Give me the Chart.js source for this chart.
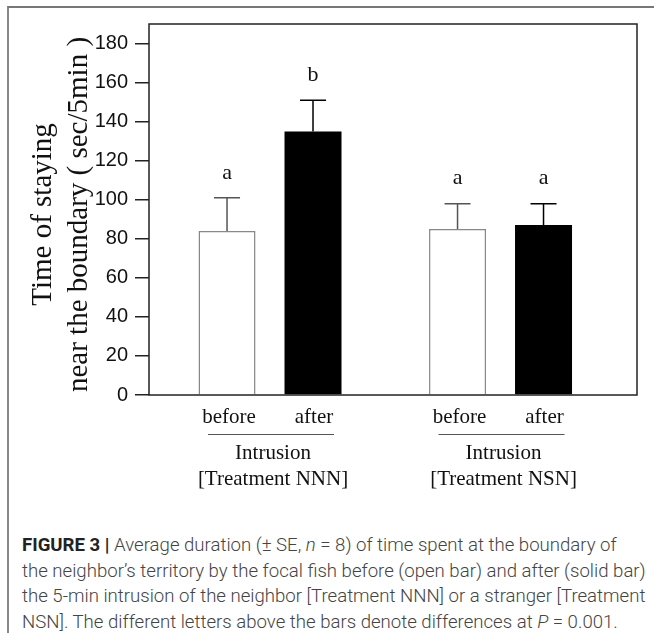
<!DOCTYPE html>
<html>
<head>
<meta charset="utf-8">
<script src="https://cdn.jsdelivr.net/npm/chart.js@4.4.1/dist/chart.umd.min.js"></script>
<style>
  body { margin: 0; background: #fff; width: 654px; height: 633px; overflow: hidden; position: relative; }
  .frame { position: absolute; left: 7px; top: 6px; width: 660px; height: 640px; border-top: 2px solid #777; border-left: 2px solid #888; }
  #chart { position: absolute; left: 0; top: 0; }
  .caption { position: absolute; left: 22px; top: 533px; width: 640px; font-family: Roboto, "Liberation Sans", sans-serif; font-size: 18.6px; line-height: 25.5px; color: #444; font-weight: 300; white-space: nowrap; }
  .caption b { color: #222; font-weight: 700; }
</style>
</head>
<body>
<div class="frame"></div>
<canvas id="chart" width="654" height="520"></canvas>
<div class="caption">
  <b>FIGURE 3 |</b> Average duration (± SE, <i>n</i> = 8) of time spent at the boundary of<br>
  the neighbor’s territory by the focal fish before (open bar) and after (solid bar)<br>
  the 5-min intrusion of the neighbor [Treatment NNN] or a stranger [Treatment<br>
  NSN]. The different letters above the bars denote differences at <i>P</i> = 0.001.
</div>
<script>
const groupNames = ["Intrusion", "Intrusion"];
const groupTreatments = ["[Treatment NNN]", "[Treatment NSN]"];
const groupPos = [1, 2];
const phases = ["before", "after"];

const beforeMean = [84, 85];
const afterMean = [135, 87];
const beforeSE = [17, 13];
const afterSE = [16, 11];
const beforeLetters = ["a", "a"];
const afterLetters = ["b", "a"];

const yTicks = [0, 20, 40, 60, 80, 100, 120, 140, 160, 180];

const serif = '"Liberation Serif", "Times New Roman", serif';

// error bars + letters above them
const errorBarPlugin = {
  id: 'errorBars',
  afterDatasetsDraw(chart) {
    const ctx = chart.ctx;
    const y = chart.scales.y;
    chart.data.datasets.forEach((ds, di) => {
      const meta = chart.getDatasetMeta(di);
      meta.data.forEach((bar, i) => {
        const top = y.getPixelForValue(ds.data[i].y + ds.se[i]);
        ctx.save();
        ctx.strokeStyle = ds.errColor;
        ctx.lineWidth = 1.5;
        ctx.beginPath();
        ctx.moveTo(bar.x, bar.y);
        ctx.lineTo(bar.x, top);
        ctx.moveTo(bar.x - 13, top);
        ctx.lineTo(bar.x + 13, top);
        ctx.stroke();
        ctx.fillStyle = '#111';
        ctx.font = '22px ' + serif;
        ctx.textAlign = 'center';
        ctx.textBaseline = 'middle';
        ctx.fillText(ds.letters[i], bar.x, top - 25);
        ctx.restore();
      });
    });
  }
};

// frame box, labels under bars, group labels, y title
const decorPlugin = {
  id: 'decor',
  afterDraw(chart) {
    const ctx = chart.ctx;
    const a = chart.chartArea;
    ctx.save();
    ctx.strokeStyle = '#222';
    ctx.lineWidth = 1.5;
    ctx.strokeRect(a.left, a.top, a.right - a.left, a.bottom - a.top);

    ctx.fillStyle = '#111';
    ctx.textAlign = 'center';
    ctx.textBaseline = 'middle';
    ctx.font = '21px ' + serif;
    const b0 = chart.getDatasetMeta(0).data;
    const b1 = chart.getDatasetMeta(1).data;
    groupPos.forEach((g, i) => {
      const xb = b0[i].x, xa = b1[i].x;
      ctx.fillText(phases[0], xb + 2, a.bottom + 22);
      ctx.fillText(phases[1], xa + 1, a.bottom + 22);
      ctx.strokeStyle = '#555';
      ctx.lineWidth = 1;
      ctx.beginPath();
      ctx.moveTo(xb - 19, a.bottom + 39.5);
      ctx.lineTo(xa + 21, a.bottom + 39.5);
      ctx.stroke();
      const cx = (xb + xa) / 2 + 3;
      ctx.fillText(groupNames[i], cx, a.bottom + 58);
      ctx.fillText(groupTreatments[i], cx, a.bottom + 84);
    });

    ctx.font = '29px ' + serif;
    ctx.translate(0, (a.top + a.bottom) / 2 + 5);
    ctx.rotate(-Math.PI / 2);
    ctx.fillText('Time of staying', 0, 43);
    ctx.fillText('near the boundary ( sec/5min )', 0, 79);
    ctx.restore();
  }
};

new Chart(document.getElementById('chart'), {
  type: 'bar',
  data: {
    datasets: [
      {
        label: phases[0],
        data: groupPos.map((g, i) => ({ x: g, y: beforeMean[i] })),
        se: beforeSE,
        letters: beforeLetters,
        errColor: '#555',
        backgroundColor: '#fff',
        borderColor: '#888',
        borderWidth: 1.5
      },
      {
        label: phases[1],
        data: groupPos.map((g, i) => ({ x: g, y: afterMean[i] })),
        se: afterSE,
        letters: afterLetters,
        errColor: '#000',
        backgroundColor: '#000',
        borderColor: '#000',
        borderWidth: 0
      }
    ]
  },
  options: {
    responsive: false,
    animation: false,
    categoryPercentage: 0.746,
    barPercentage: 0.663,
    layout: { padding: { top: 24, right: 17, left: 0, bottom: 0 } },
    plugins: { legend: { display: false }, tooltip: { enabled: false } },
    scales: {
      x: {
        type: 'linear',
        offset: false,
        min: 0.475,
        max: 2.592,
        afterBuildTicks: (s) => { s.ticks = groupPos.map(v => ({ value: v })); },
        afterFit: (s) => { s.height = 125; },
        grid: { display: false },
        border: { display: false },
        ticks: { display: false }
      },
      y: {
        min: 0,
        max: 190,
        afterBuildTicks: (s) => { s.ticks = yTicks.map(v => ({ value: v })); },
        afterFit: (s) => { s.width = 149; },
        border: { display: false },
        grid: { drawOnChartArea: false, drawTicks: true, tickLength: 14, color: '#222', lineWidth: 1.5 },
        ticks: { padding: 7, color: '#111', font: { family: '"Liberation Sans", Arial, sans-serif', size: 20 } }
      }
    }
  },
  plugins: [errorBarPlugin, decorPlugin]
});
</script>
</body>
</html>
